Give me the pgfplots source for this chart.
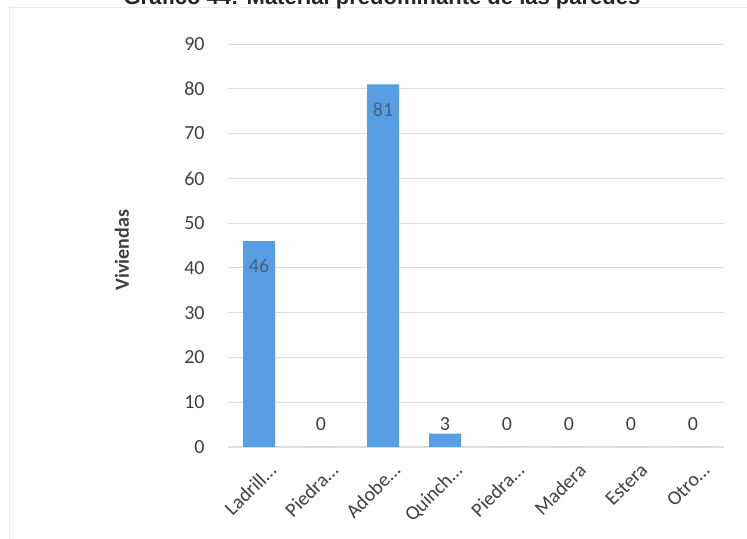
\documentclass[border=0pt]{standalone}
\usepackage{fontspec}
\setmainfont{Carlito}
\newfontfamily\titlefont{Liberation Sans}
\usepackage{pgfplots}
\pgfplotsset{compat=1.18}
\definecolor{barblue}{RGB}{88,158,228}
\definecolor{txt}{RGB}{64,64,64}
\definecolor{lbl}{RGB}{72,96,125}
\definecolor{gridc}{RGB}{222,222,222}
\begin{document}
\begin{tikzpicture}[x=0.75pt,y=0.75pt]
\useasboundingbox (0,0) rectangle (747,539);
\draw[gray!15] (9,0) -- (9,532) -- (747,532);
\node[anchor=base,font=\titlefont\bfseries\fontsize{16.5}{18}\selectfont,text=black!85] at (382,534) {Gráfico 44: Material predominante de las paredes};
\node[rotate=90,font=\bfseries\fontsize{15}{17}\selectfont,text=txt] at (122,289) {Viviendas};
\begin{axis}[
  at={(171pt,69pt)}, anchor=south west,
  scale only axis, width=372pt, height=302.25pt,
  xmin=-0.5, xmax=7.5, ymin=0, ymax=90,
  ytick={0,10,...,90},
  xtick={0,...,7},
  xticklabels={Ladrill…,Piedra…,Adobe…,Quinch…,Piedra…,Madera,Estera,Otro…},
  axis line style={draw=none},
  axis x line*=bottom,
  x axis line style={draw=gridc,thick},
  tick style={draw=none},
  ymajorgrids, grid style={gridc,line width=0.6pt},
  yticklabel style={xshift=-14pt},
  xticklabel style={rotate=45,anchor=north east,yshift=-6pt,xshift=3pt},
  ticklabel style={font=\fontsize{15}{17}\selectfont,text=txt},
  /pgf/number format/assume math mode=true,
  ybar, bar width=24pt,
]
\addplot[fill=barblue,draw=none] coordinates {(0,46) (1,0) (2,81) (3,3) (4,0) (5,0) (6,0) (7,0)};
\begin{scope}[every node/.style={font=\fontsize{15}{17}\selectfont}]
\node[text=lbl,anchor=north] at (axis cs:0,43) {46};
\node[text=lbl,anchor=north] at (axis cs:2,78) {81};
\node[text=txt,anchor=base] at (axis cs:1,3.7) {0};
\node[text=txt,anchor=base] at (axis cs:3,3.7) {3};
\node[text=txt,anchor=base] at (axis cs:4,3.7) {0};
\node[text=txt,anchor=base] at (axis cs:5,3.7) {0};
\node[text=txt,anchor=base] at (axis cs:6,3.7) {0};
\node[text=txt,anchor=base] at (axis cs:7,3.7) {0};
\end{scope}
\end{axis}
\end{tikzpicture}
\end{document}
